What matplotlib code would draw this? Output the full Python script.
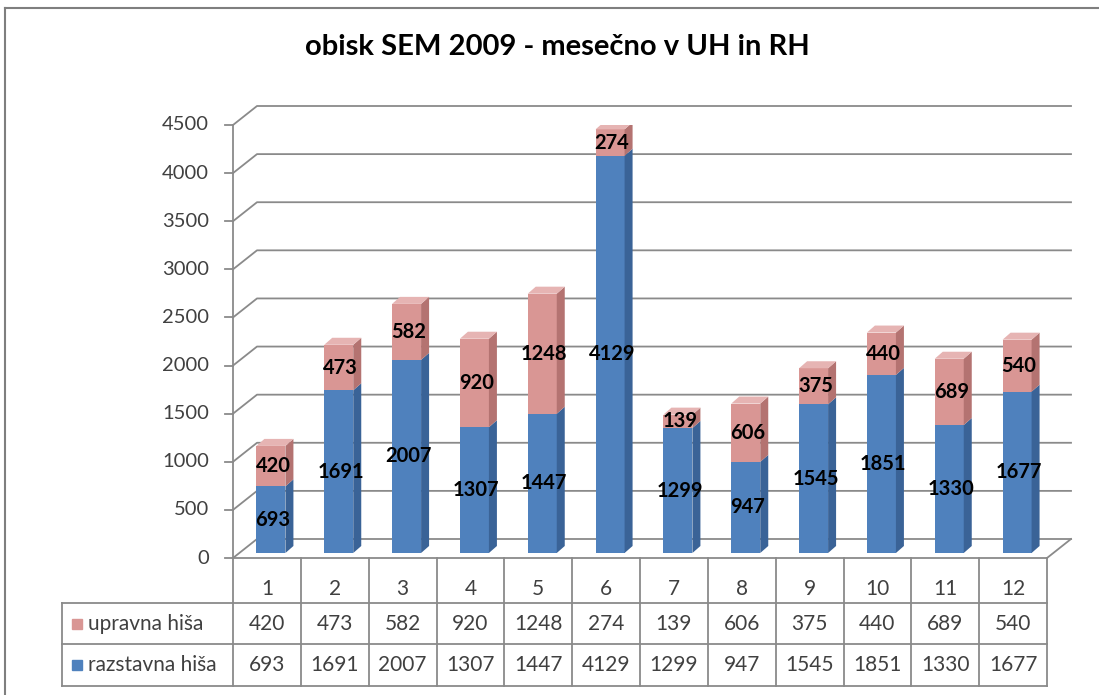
import matplotlib
matplotlib.use('Agg')
import matplotlib.pyplot as plt
from matplotlib.patches import Polygon, Rectangle
import numpy as np

plt.rcParams['font.family'] = ['Lato', 'DejaVu Sans']

# podatki
naslov = 'obisk SEM 2009 - mesečno v UH in RH'
meseci = ['1', '2', '3', '4', '5', '6', '7', '8', '9', '10', '11', '12']
upravna = [420, 473, 582, 920, 1248, 274, 139, 606, 375, 440, 689, 540]
razstavna = [693, 1691, 2007, 1307, 1447, 4129, 1299, 947, 1545, 1851, 1330, 1677]
serije = ['upravna hiša', 'razstavna hiša']
yticks = [0, 500, 1000, 1500, 2000, 2500, 3000, 3500, 4000, 4500]

W, H = 1099, 695
fig = plt.figure(figsize=(W / 100, H / 100), dpi=100)
fig.patch.set_facecolor('white')


def px(x0, y0, x1, y1):
    return [x0 / W, 1 - y1 / H, (x1 - x0) / W, (y1 - y0) / H]


# okvir
fig.add_artist(plt.Line2D([5 / W, 1], [1 - 8 / H, 1 - 8 / H], color='#7f7f7f', lw=1.5))
fig.add_artist(plt.Line2D([5 / W, 5 / W], [0, 1 - 8 / H], color='#7f7f7f', lw=1.5))

fig.text(557 / W, 1 - 47 / H, naslov, ha='center', va='center',
         fontsize=21, fontweight='bold', color='black')

x0, x1, y0, y1 = 233, 1047, 125, 558
ax = fig.add_axes(px(x0, y0, x1, y1))
n = len(meseci)
ax.set_xlim(0, n)
ax.set_ylim(0, 4500)
ax.axis('off')

ux = n / (x1 - x0)        # podatkovne enote na piksel
uy = 4500 / (y1 - y0)
gdx, gdy = 24 * ux, 19 * uy
grid = '#8a8a8a'

# stene in mreza
for v in yticks:
    ax.plot([0, gdx, n + gdx], [v, v + gdy, v + gdy], color=grid, lw=1.3,
            clip_on=False, zorder=1)
    ax.plot([-8 * ux, 0], [v, v], color=grid, lw=1.3, clip_on=False, zorder=1)
    ax.text(-24 * ux, v, str(v), ha='right', va='center', fontsize=14.5,
            color='#404040')
ax.plot([0, 0], [0, 4500], color=grid, lw=1.3, clip_on=False, zorder=1)
ax.plot([0, n], [0, 0], color=grid, lw=1.3, clip_on=False, zorder=1)
ax.plot([n, n + gdx], [0, gdy], color=grid, lw=1.3, clip_on=False, zorder=1)

# stolpci
bx, by = 4 * ux, 5 * uy
bw = 29 * ux
sdx, sdy = 8 * ux, 7 * uy
barve = {
    'modra': ('#4f81bd', '#3a6397', '#7b9fd0'),
    'roza': ('#d99694', '#b47371', '#e6b4b3'),
}
xc = np.arange(n) + 0.5 + bx
spodaj = np.array(razstavna)
ax.bar(xc, razstavna, width=bw, bottom=by, color=barve['modra'][0], zorder=3)
ax.bar(xc, upravna, width=bw, bottom=by + spodaj, color=barve['roza'][0], zorder=3)

for i in range(n):
    xr = xc[i] + bw / 2
    xl = xc[i] - bw / 2
    segs = [(by, by + razstavna[i], 'modra'),
            (by + razstavna[i], by + razstavna[i] + upravna[i], 'roza')]
    for b0, b1, k in segs:
        ax.add_patch(Polygon([(xr, b0), (xr + sdx, b0 + sdy), (xr + sdx, b1 + sdy), (xr, b1)],
                             closed=True, color=barve[k][1], lw=0, zorder=3))
    vrh = by + razstavna[i] + upravna[i]
    ax.add_patch(Polygon([(xl, vrh), (xl + sdx, vrh + sdy), (xr + sdx, vrh + sdy), (xr, vrh)],
                         closed=True, color=barve['roza'][2], lw=0, zorder=3))
    ax.text(xc[i] + 2 * ux, by + razstavna[i] / 2, str(razstavna[i]), ha='center',
            va='center', fontsize=14.5, fontweight='bold', color='black', zorder=5)
    ax.text(xc[i] + 2 * ux, by + razstavna[i] + upravna[i] / 2, str(upravna[i]),
            ha='center', va='center', fontsize=14.5, fontweight='bold', color='black',
            zorder=5)

# tabela
tl = 62
tb = fig.add_axes(px(tl, 558, x1, 686))
cw = (x1 - x0) / n
tb.set_xlim(-(x0 - tl) / cw, n)
tb.set_ylim(686, 558)
tb.axis('off')
rows = [558, 603, 644, 686]
lx = -(x0 - tl) / cw
for j in range(n + 1):
    tb.plot([j, j], [rows[0], rows[3]], color=grid, lw=1.3, clip_on=False)
tb.plot([lx, lx], [rows[1], rows[3]], color=grid, lw=1.3, clip_on=False)
for r in rows[1:]:
    tb.plot([lx, n], [r, r], color=grid, lw=1.3, clip_on=False)

for j in range(n):
    tb.text(j + 0.5, 589, meseci[j], ha='center', va='center', fontsize=15, color='#404040')
    tb.text(j + 0.5, 623.5, str(upravna[j]), ha='center', va='center', fontsize=15,
            color='#404040')
    tb.text(j + 0.5, 665, str(razstavna[j]), ha='center', va='center', fontsize=15,
            color='#404040')

for ime, yy, k in [(serije[0], 623.5, 'roza'), (serije[1], 665, 'modra')]:
    tb.add_patch(Rectangle(((72 - tl) / cw + lx, yy - 5), 10 / cw, 10,
                           color=barve[k][0], clip_on=False))
    tb.text((88 - tl) / cw + lx, yy, ime, ha='left', va='center', fontsize=15,
            color='#404040')

fig.savefig('out.png', dpi=100, facecolor='white')
